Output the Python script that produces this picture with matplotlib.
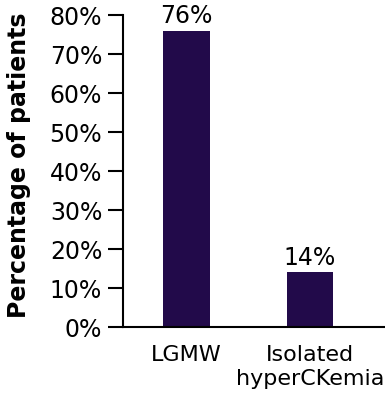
import matplotlib
matplotlib.use("Agg")
import matplotlib.pyplot as plt
from matplotlib.ticker import FuncFormatter

categories = ["LGMW", "Isolated\nhyperCKemia"]
percentages = [76, 14]
bar_labels = ["76%", "14%"]

plt.rcParams["font.family"] = ["DejaVu Sans"]

fig = plt.figure(figsize=(3.85, 3.95), dpi=100)
ax = fig.add_axes([0.3195, 0.172, 0.6805, 0.79])

x = list(range(len(categories)))
bars = ax.bar(x, percentages, width=0.38, color="#220a4a")
for rect, lab in zip(bars, bar_labels):
    ax.text(rect.get_x() + rect.get_width() / 2, rect.get_height() + 0.6, lab,
            ha="center", va="bottom", fontsize=17)

ax.set_xlim(-0.514, 1.607)
ax.set_ylim(0, 80)
ax.set_yticks(range(0, 81, 10))
ax.yaxis.set_major_formatter(FuncFormatter(lambda v, p: f"{int(v)}%"))
ax.set_xticks(x)
ax.set_xticklabels(categories, fontsize=16, linespacing=1.25)
ax.tick_params(axis="y", labelsize=17, length=11, width=1.5, pad=4)
ax.tick_params(axis="x", length=0, pad=13)
ax.spines["top"].set_visible(False)
ax.spines["right"].set_visible(False)
ax.spines["left"].set_linewidth(1.5)
ax.spines["bottom"].set_linewidth(1.5)
ax.set_ylabel("Percentage of patients", fontsize=17, fontweight="bold")
ax.yaxis.set_label_coords(-0.35, 0.52)

fig.savefig("out.png", dpi=100)
